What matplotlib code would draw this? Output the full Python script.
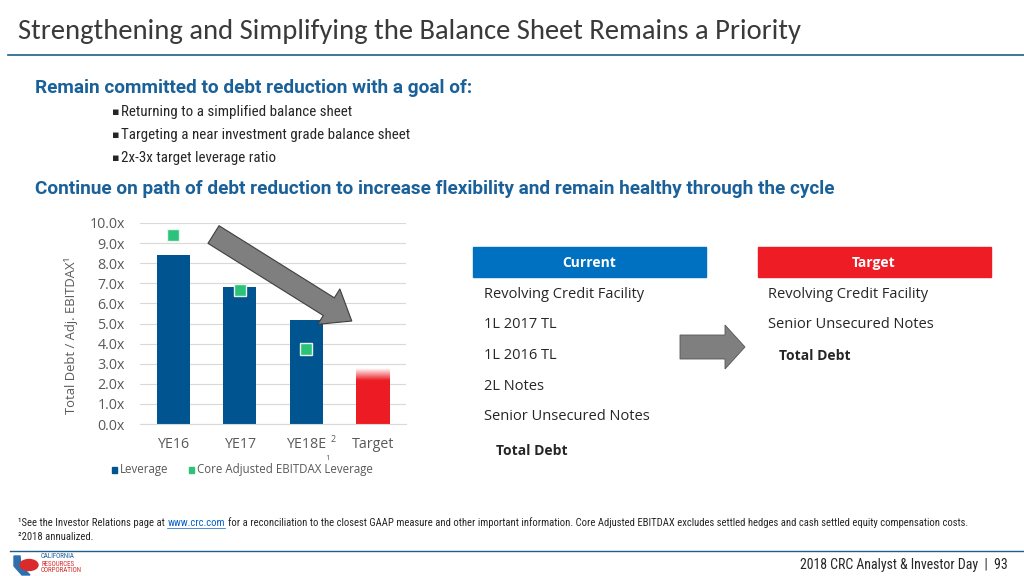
import matplotlib
matplotlib.use("Agg")
import matplotlib.pyplot as plt
import numpy as np
from matplotlib.patches import Rectangle, FancyArrowPatch, FancyArrow, Ellipse, Polygon
from matplotlib.colors import to_rgba
import logging
logging.getLogger("matplotlib.font_manager").setLevel(logging.ERROR)

# ---------------- data ----------------
categories = ["YE16", "YE17", "YE18E", "Target"]
leverage = [8.4, 6.8, 5.15, 2.75]
core_adj_leverage = [9.4, 6.65, 3.75]
yticks = [0, 1, 2, 3, 4, 5, 6, 7, 8, 9, 10]
current_items = ["Revolving Credit Facility", "1L 2017 TL", "1L 2016 TL",
                 "2L Notes", "Senior Unsecured Notes"]
target_items = ["Revolving Credit Facility", "Senior Unsecured Notes"]
bullets = ["Returning to a simplified balance sheet",
           "Targeting a near investment grade balance sheet",
           "2x-3x target leverage ratio"]

W, H = 1024, 576
fig = plt.figure(figsize=(W / 100, H / 100), dpi=100)
fig.patch.set_facecolor("white")

def fx(x):
    return x / W

def fy(y):
    return 1 - y / H

TITLE = ["Carlito", "Open Sans", "DejaVu Sans"]
NARROW = ["Roboto Condensed", "Archivo Narrow", "DejaVu Sans"]
HEAD = ["Roboto", "DejaVu Sans"]
BODY = ["Open Sans", "DejaVu Sans"]
BLUE_H = "#1B6199"
TXT = "#262626"
GRAY = "#595959"

# ---------------- header ----------------
fig.text(fx(18), fy(32), "Strengthening and Simplifying the Balance Sheet Remains a Priority",
         fontsize=20.6, family=TITLE, color="#3A3A3A", va="center", ha="left")
fig.add_artist(plt.Line2D([fx(8), 1], [fy(55), fy(55)], color="#1F5F8B", lw=1.2))

fig.text(fx(35), fy(88), "Remain committed to debt reduction with a goal of:",
         fontsize=13.65, family=HEAD, weight="bold", color=BLUE_H, va="center")
for i, b in enumerate(bullets):
    y = 112 + i * 23
    fig.text(fx(112), fy(y), "\u25aa", fontsize=8, color=TXT, va="center", family=["DejaVu Sans"])
    fig.text(fx(121), fy(y), b, fontsize=10.8, family=NARROW, color=TXT, va="center")
fig.text(fx(35), fy(189), "Continue on path of debt reduction to increase flexibility and remain healthy through the cycle",
         fontsize=13.65, family=HEAD, weight="bold", color=BLUE_H, va="center")

# ---------------- chart ----------------
ax = fig.add_axes([fx(140), fy(424), fx(406) - fx(140), fy(223) - fy(424)])
x = np.arange(len(categories))
bar_colors = ["#00548F"] * 3 + ["none"]
bars = ax.bar(x, leverage, width=0.5, color=bar_colors, zorder=2)

# gradient-topped red target bar
tb = bars[-1]
x0, w, h = tb.get_x(), tb.get_width(), tb.get_height()
n = 200
ys = np.linspace(0, h, n)
alpha = np.clip((h - ys) / (h - 2.15), 0, 1)
img = np.zeros((n, 1, 4))
img[..., :3] = to_rgba("#ED1C24")[:3]
img[:, 0, 3] = alpha
ax.imshow(img, extent=[x0, x0 + w, 0, h], origin="lower", aspect="auto", zorder=2,
          interpolation="bilinear")

ax.plot(x[:len(core_adj_leverage)], core_adj_leverage, linestyle="none", marker="s",
        markersize=9, markerfacecolor="#2DC27A", markeredgecolor="#E8F5EE",
        markeredgewidth=1.0, zorder=3)

ax.set_xlim(-0.5, 3.5)
ax.set_ylim(0, 10)
ax.set_yticks(yticks)
ax.set_yticklabels([f"{v:.1f}x" for v in yticks], fontsize=10.3, color=GRAY, family=BODY)
ax.set_xticks(x)
ax.set_xticklabels(categories, fontsize=10.3, color=GRAY, family=BODY)
ax.tick_params(length=0, pad=11)
ax.tick_params(axis="x", pad=9)
ax.grid(axis="y", color="#D9D9D9", lw=0.8, zorder=0)
ax.set_axisbelow(True)
for s in ax.spines.values():
    s.set_visible(False)
ax.spines["bottom"].set_visible(True)
ax.spines["bottom"].set_color("#D9D9D9")
ax.set_facecolor("none")

# superscript on YE18E
ax.text(2.36, -0.75, "2", fontsize=6.5, color=GRAY, family=BODY, ha="left", va="center")

# big trend arrow
arr = FancyArrowPatch((0.57, 9.5), (2.72, 5.05),
                      arrowstyle="simple,head_width=2.0,head_length=1.3,tail_width=1.0",
                      mutation_scale=15, facecolor="#7F7F7F", edgecolor="#3F3F3F",
                      lw=0.8, zorder=4)
ax.add_patch(arr)

fig.text(fx(71), fy(335), "Total Debt / Adj. EBITDAX\u00b9", rotation=90, fontsize=9.4,
         color=GRAY, family=BODY, ha="center", va="center")

# legend
fig.add_artist(Rectangle((fx(112), fy(473)), fx(5), 6 / H,
                         transform=fig.transFigure, color="#00548F"))
fig.text(fx(120), fy(470), "Leverage", fontsize=8.3, color=GRAY, family=BODY, va="center")
fig.add_artist(Rectangle((fx(189), fy(473)), fx(5), 6 / H,
                         transform=fig.transFigure, color="#2DC27A"))
fig.text(fx(197), fy(470), "Core Adjusted EBITDAX Leverage", fontsize=8.3, color=GRAY,
         family=BODY, va="center")
fig.text(fx(325), fy(458), "1", fontsize=5.5, color=GRAY, family=BODY, va="center")

# ---------------- right panel ----------------
fig.add_artist(Rectangle((fx(473), fy(277)), fx(706) - fx(473), 30 / H,
                         transform=fig.transFigure, color="#0070C0"))
fig.text(fx(589), fy(263), "Current", fontsize=10, weight="bold", color="white",
         family=BODY, ha="center", va="center")
fig.add_artist(Rectangle((fx(758), fy(277)), fx(991) - fx(758), 30 / H,
                         transform=fig.transFigure, color="#EE1C25"))
fig.text(fx(874), fy(263), "Target", fontsize=10, weight="bold", color="white",
         family=BODY, ha="center", va="center")

for i, t in enumerate(current_items):
    fig.text(fx(484), fy(294 + i * 30.7), t, fontsize=10.5, color=TXT, family=BODY, va="center")
fig.text(fx(496), fy(451), "Total Debt", fontsize=10, weight="bold", color=TXT,
         family=BODY, va="center")
for i, t in enumerate(target_items):
    fig.text(fx(768), fy(294 + i * 30.7), t, fontsize=10.5, color=TXT, family=BODY, va="center")
fig.text(fx(779), fy(356), "Total Debt", fontsize=10, weight="bold", color=TXT,
         family=BODY, va="center")

fig.add_artist(FancyArrow(fx(680), fy(347), fx(745) - fx(680) - fx(20), 0,
                          width=24 / H, head_width=44 / H, head_length=fx(20),
                          length_includes_head=False, transform=fig.transFigure,
                          facecolor="#7F7F7F", edgecolor="#555555", lw=0.6))

# ---------------- footer ----------------
FS = 7.7
r = fig.canvas.get_renderer()
t1 = fig.text(fx(18), fy(523), "\u00b9See the Investor Relations page at ", fontsize=FS, color=TXT,
              family=NARROW, va="center")
e1 = t1.get_window_extent(r)
t2 = fig.text(e1.x1 / W, fy(523), "www.crc.com", fontsize=FS, color="#0563C1",
              family=NARROW, va="center")
e2 = t2.get_window_extent(r)
fig.add_artist(plt.Line2D([e2.x0 / W, e2.x1 / W], [fy(528), fy(528)], color="#0563C1", lw=0.5))
fig.text(e2.x1 / W + 3 / W, fy(523), "for a reconciliation to the closest GAAP measure and other important information. "
         "Core Adjusted EBITDAX excludes settled hedges and cash settled equity compensation costs.",
         fontsize=FS, color=TXT, family=NARROW, va="center")
fig.text(fx(18), fy(537), "\u00b22018 annualized.", fontsize=FS, color=TXT, family=NARROW, va="center")
fig.add_artist(plt.Line2D([fx(10), 1], [fy(551), fy(551)], color="#1F5F8B", lw=1.0))
fig.text(fx(1008), fy(565), "2018 CRC Analyst & Investor Day  |  93", fontsize=10, color=TXT,
         family=NARROW, ha="right", va="center")

# logo (approximation)
fig.add_artist(Polygon([[fx(14), fy(556)], [fx(20), fy(556)], [fx(21), fy(566)],
                        [fx(30), fy(575)], [fx(22), fy(575)], [fx(14), fy(566)]],
                       closed=True, transform=fig.transFigure, color="#2E6FAE"))
fig.add_artist(Ellipse((fx(29), fy(565)), 18 / W, 11 / H, transform=fig.transFigure,
                       color="#D92B2B"))
fig.text(fx(41), fy(557), "CALIFORNIA", fontsize=5, color="#1F5F9B", family=NARROW, va="center")
fig.text(fx(41), fy(564), "RESOURCES", fontsize=5, color="#D92B2B", family=NARROW, va="center")
fig.text(fx(41), fy(571), "CORPORATION", fontsize=5, color="#D92B2B", family=NARROW, va="center")

fig.savefig("out.png", dpi=100)
